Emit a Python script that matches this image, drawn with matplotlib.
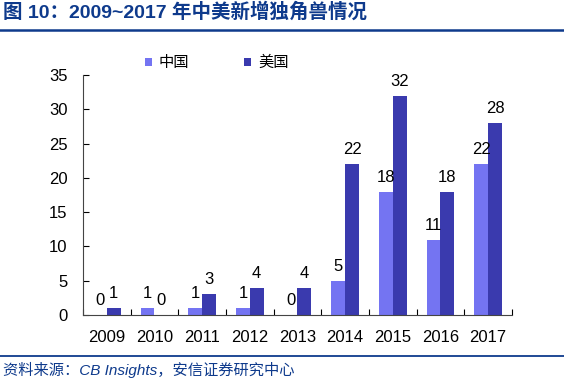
import numpy as np
import matplotlib
matplotlib.use("Agg")
import matplotlib.pyplot as plt
from matplotlib.lines import Line2D

# Liberation Sans for latin text / digits, Noto CJK for the Chinese
plt.rcParams['font.family'] = ['Liberation Sans', 'Noto Sans CJK SC', 'DejaVu Sans']

# data
years = ['2009', '2010', '2011', '2012', '2013', '2014', '2015', '2016', '2017']
china = [0, 1, 1, 1, 0, 5, 18, 11, 22]
usa = [1, 0, 3, 4, 4, 22, 32, 18, 28]

c_cn = '#7474F2'
c_us = '#3A3AAE'
c_title = '#0E3A8C'

W, H = 564, 383
fig = plt.figure(figsize=(W / 100, H / 100), dpi=100)
ax = fig.add_axes([83 / W, 1 - 315 / H, (512 - 83) / W, 240 / H])

x = np.arange(len(years))
w = 0.29
b1 = ax.bar(x - w / 2, china, w, color=c_cn, label='中国')
b2 = ax.bar(x + w / 2, usa, w, color=c_us, label='美国')

# value labels above bars
for bars, vals in ((b1, china), (b2, usa)):
    for rect, v in zip(bars, vals):
        ax.annotate(str(v), (rect.get_x() + rect.get_width() / 2, v),
                    xytext=(0, 5), textcoords='offset points',
                    ha='center', va='bottom', fontsize=12)

ax.set_xlim(-0.5, len(years) - 0.5)
ax.set_ylim(0, 35)
ax.set_yticks(range(0, 36, 5))
ax.set_xticks(x)
ax.set_xticklabels(years)
ax.set_xticks(np.arange(-0.5, len(years)), minor=True)
ax.tick_params(axis='x', which='major', length=0, pad=11, labelsize=12)
ax.tick_params(axis='x', which='minor', length=4, direction='in', width=0.8)
ax.tick_params(axis='y', length=4, direction='in', width=0.8, pad=11, labelsize=12)
ax.spines['top'].set_visible(False)
ax.spines['right'].set_visible(False)
ax.spines['left'].set_color('#444444')
ax.spines['bottom'].set_color('#444444')

fig.legend(loc='center left', bbox_to_anchor=(145 / W, 1 - 63 / H), ncol=2,
           frameon=False, fontsize=11, handlelength=0.45, handleheight=0.45,
           handletextpad=0.45, columnspacing=3.6, borderpad=0, borderaxespad=0)

# title and footer
fig.text(3 / W, 1 - 12 / H, '图 10：2009~2017 年中美新增独角兽情况', fontsize=14,
         fontweight='bold', color=c_title, va='center', ha='left')
fig.add_artist(Line2D([0, 1], [1 - 29.5 / H] * 2, color=c_title, lw=1.8))
fig.add_artist(Line2D([0, 1], [1 - 356 / H] * 2, color=c_title, lw=1.3))
fig.text(3 / W, 1 - 370 / H, '资料来源：CB Insights，安信证券研究中心', fontsize=11,
         style='italic', color=c_title, va='center', ha='left')

fig.savefig('out.png', dpi=100)
